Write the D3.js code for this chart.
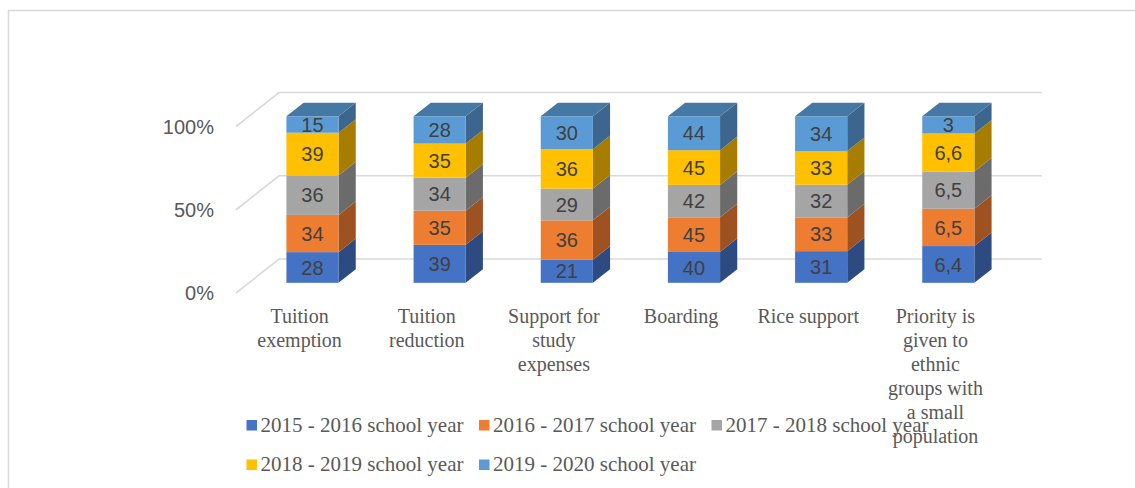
<!DOCTYPE html>
<html>
<head>
<meta charset="utf-8">
<script src="https://cdn.jsdelivr.net/npm/d3@7"></script>
<style>
  body { margin: 0; background: #fff; }
  svg { display: block; }
</style>
</head>
<body>
<div id="chart"></div>
<script>
// categories, with the line breaks used under the axis
var categories = [
	"Tuition\nexemption",
	"Tuition\nreduction",
	"Support for\nstudy\nexpenses",
	"Boarding",
	"Rice support",
	"Priority is\ngiven to\nethnic\ngroups with\na small\npopulation"
];
var seriesNames = [
	"2015 - 2016 school year",
	"2016 - 2017 school year",
	"2017 - 2018 school year",
	"2018 - 2019 school year",
	"2019 - 2020 school year"
];
var y2015 = [28, 39, 21, 40, 31, 6.4];
var y2016 = [34, 35, 36, 45, 33, 6.5];
var y2017 = [36, 34, 29, 42, 32, 6.5];
var y2018 = [39, 35, 36, 45, 33, 6.6];
var y2019 = [15, 28, 30, 44, 34, 3];
var yTicks = [0, 0.5, 1];

var width = 1135, height = 488;

var frontColors = ["#4472C4", "#ED7D31", "#A5A5A5", "#FFC000", "#5B9BD5"];
var sideColors  = ["#2D4B80", "#9E5121", "#6B6B6B", "#A67D00", "#3C668E"];
var topColor = "#4678A5";

var depthX = 43, depthY = -34;    // full depth of the floor
var barFront = 0.3, barDepth = 0.4;

var svg = d3.select("#chart").append("svg")
	.attr("width", width)
	.attr("height", height);

// chart border (right and bottom sit outside the picture)
svg.append("rect")
	.attr("x", 8.5).attr("y", 10.5)
	.attr("width", 1200).attr("height", 600)
	.attr("fill", "none")
	.attr("stroke", "#d9d9d9")
	.attr("stroke-width", 1.5);

var x = d3.scaleBand()
	.domain(categories)
	.range([236, 999])
	.paddingInner(0.59)
	.paddingOuter(0.295);

var y = d3.scaleLinear()
	.domain([0, 1])
	.range([293, 126.5]);

// build rows for the stack
var rows = categories.map(function(c, i) {
	return { cat: c, s0: y2015[i], s1: y2016[i], s2: y2017[i], s3: y2018[i], s4: y2019[i] };
});
var keys = ["s0", "s1", "s2", "s3", "s4"];
var stack = d3.stack().keys(keys).offset(d3.stackOffsetExpand);
var series = stack(rows);

// gridlines: left wall diagonal + back wall
var grid = svg.append("g");
yTicks.forEach(function(t) {
	var yy = y(t);
	grid.append("polyline")
		.attr("points", [[236, yy], [236 + depthX, yy + depthY], [999 + depthX, yy + depthY]].join(" "))
		.attr("fill", "none")
		.attr("stroke", "#d9d9d9")
		.attr("stroke-width", 1.6);
});

// y axis labels
svg.append("g").selectAll("text")
	.data(yTicks)
	.enter().append("text")
	.attr("x", 214)
	.attr("y", function(d) { return y(d); })
	.attr("dy", "0.36em")
	.attr("text-anchor", "end")
	.style("font-family", "'Liberation Sans', Arial, sans-serif")
	.style("font-size", "20px")
	.style("fill", "#595959")
	.text(function(d) { return d3.format(".0%")(d); });

// bars
var ox = barFront * depthX, oy = barFront * depthY;
var dx = barDepth * depthX, dy = barDepth * depthY;
var bw = x.bandwidth();
var fmt = function(v) { return String(v).replace(".", ","); };

categories.forEach(function(c, ci) {
	var g = svg.append("g");
	var x0 = x(c) + ox;
	series.forEach(function(s, si) {
		var d = s[ci];
		var yb = y(d[0]) + oy, yt = y(d[1]) + oy;
		// side face
		g.append("polygon")
			.attr("points", [[x0 + bw, yb], [x0 + bw + dx, yb + dy], [x0 + bw + dx, yt + dy], [x0 + bw, yt]].join(" "))
			.attr("fill", sideColors[si]);
		// front face
		g.append("rect")
			.attr("x", x0).attr("y", yt)
			.attr("width", bw).attr("height", yb - yt)
			.attr("fill", frontColors[si]);
		if (si === series.length - 1) {
			g.append("polygon")
				.attr("points", [[x0, yt], [x0 + dx, yt + dy], [x0 + bw + dx, yt + dy], [x0 + bw, yt]].join(" "))
				.attr("fill", topColor);
		}
		g.append("text")
			.attr("x", x0 + bw / 2)
			.attr("y", (yb + yt) / 2)
			.attr("dy", "0.36em")
			.attr("text-anchor", "middle")
			.style("font-family", "'Liberation Sans', Arial, sans-serif")
			.style("font-size", "20px")
			.style("fill", "#404040")
			.text(fmt(d.data[keys[si]]));
	});
});

// category labels
var catG = svg.append("g");
categories.forEach(function(c) {
	var t = catG.append("text")
		.attr("text-anchor", "middle")
		.style("font-family", "'Liberation Serif', 'Times New Roman', serif")
		.style("font-size", "20px")
		.style("fill", "#595959");
	c.split("\n").forEach(function(line, li) {
		t.append("tspan")
			.attr("x", x(c) + bw / 2)
			.attr("y", 323 + li * 24)
			.text(line);
	});
});

// legend
var legend = svg.append("g");
seriesNames.forEach(function(name, i) {
	var col = i % 3, row = Math.floor(i / 3);
	var lx = 246.5 + col * 232.5, ly = 420 + row * 39.5;
	legend.append("rect")
		.attr("x", lx).attr("y", ly)
		.attr("width", 10.5).attr("height", 10.5)
		.attr("fill", frontColors[i]);
	legend.append("text")
		.attr("x", lx + 14)
		.attr("y", ly + 11.5)
		.style("font-family", "'Liberation Serif', 'Times New Roman', serif")
		.style("font-size", "21px")
		.style("fill", "#595959")
		.text(name);
});
</script>
</body>
</html>
